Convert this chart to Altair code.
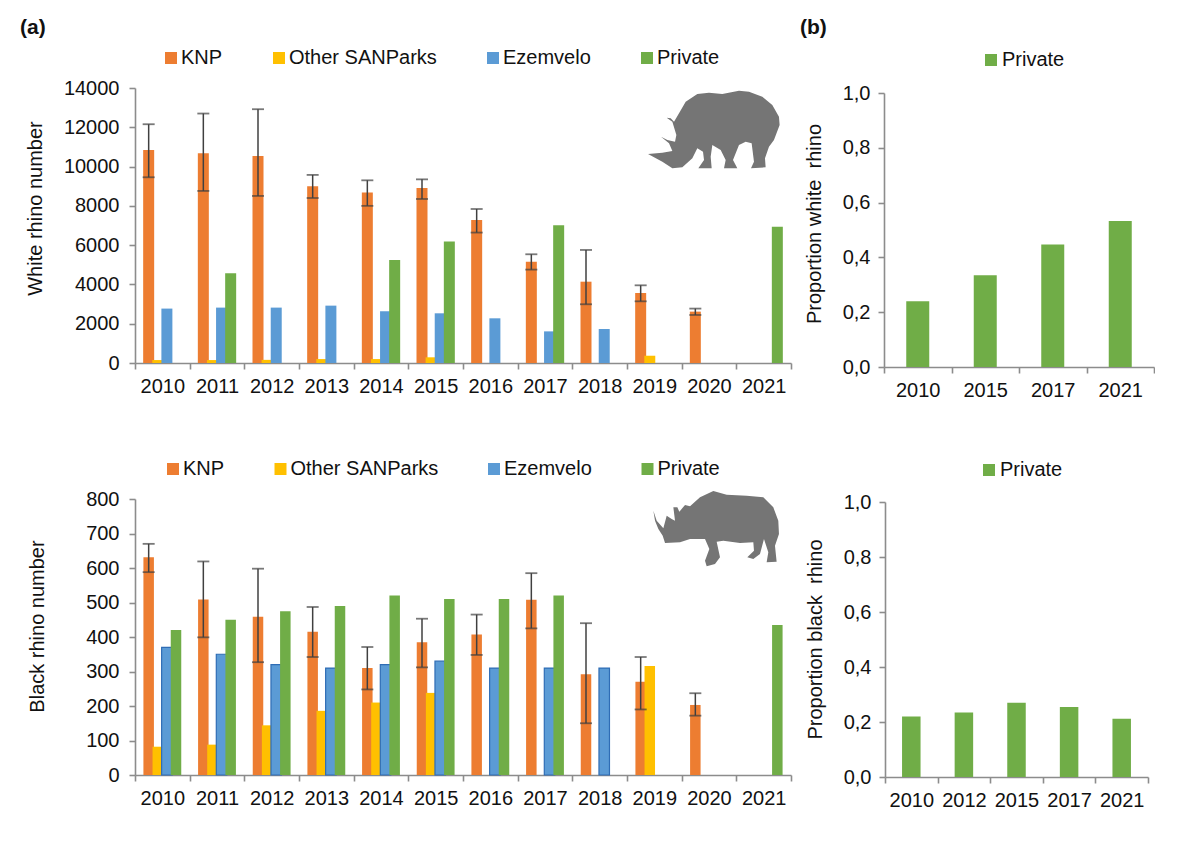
import altair as alt
import pandas as pd

FONT = "Liberation Sans"
YEARS = [str(y) for y in range(2010, 2022)]
SERIES = ["KNP", "Other SANParks", "Ezemvelo", "Private"]
COLORS = ["#ED7D31", "#FFC000", "#5B9BD5", "#70AD47"]
N = None

white_knp = [10850, 10680, 10540, 9000, 8675, 8910, 7280, 5160, 4140, 3565, 2615, N]
white_other = [150, 150, 160, 200, 200, 290, N, N, N, 370, N, N]
white_ez = [2770, 2820, 2820, 2920, 2630, 2530, 2275, 1610, 1730, N, N, N]
white_priv = [N, 4565, N, N, 5245, 6180, N, 7010, N, N, N, 6940]
white_hi = [12155, 12700, 12920, 9575, 9300, 9350, 7840, 5535, 5755, 3955, 2770, N]
white_lo = [9455, 8760, 8505, 8400, 8000, 8350, 6640, 4755, 2990, 3140, 2445, N]

black_knp = [631, 509, 459, 415, 310, 385, 407, 508, 292, 270, 203, N]
black_other = [82, 88, 144, 186, 210, 238, N, N, N, 316, N, N]
black_ez = [370, 350, 320, 310, 320, 330, 310, 310, 310, N, N, N]
black_priv = [420, 450, 475, 490, 520, 510, 510, 520, N, N, N, 435]
black_hi = [670, 619, 598, 487, 371, 453, 465, 585, 440, 342, 237, N]
black_lo = [588, 399, 327, 342, 248, 312, 348, 425, 150, 190, 172, N]

prop_white_years = ["2010", "2015", "2017", "2021"]
prop_white = [0.24, 0.335, 0.447, 0.533]
prop_black_years = ["2010", "2012", "2015", "2017", "2021"]
prop_black = [0.22, 0.235, 0.27, 0.255, 0.212]

WHITE_OUTLINE = [(57, 222), (100, 218), (130, 213), (120, 190), (96, 170), (115, 180), (138, 185), (142, 165), (130, 125),
                 (113, 113), (125, 115), (135, 125), (150, 100), (170, 65), (205, 42), (240, 38), (280, 42), (330, 32),
                 (360, 35), (400, 50), (430, 75), (450, 110), (452, 135), (435, 180), (420, 200), (408, 235), (410, 262),
                 (366, 265), (375, 245), (368, 190), (350, 185), (330, 195), (312, 240), (325, 265), (285, 265), (290, 240),
                 (275, 210), (250, 195), (245, 230), (248, 265), (208, 265), (225, 240), (222, 215), (205, 205), (190, 235),
                 (160, 262), (130, 265), (100, 245)]
BLACK_OUTLINE = [(40, 95), (50, 125), (70, 148), (80, 110), (95, 120), (105, 125), (100, 85), (112, 85), (118, 98), (135, 78),
                 (150, 82), (180, 55), (220, 36), (260, 47), (320, 50), (370, 55), (400, 85), (415, 125), (417, 165), (405, 200),
                 (410, 248), (380, 250), (385, 220), (372, 180), (360, 225), (340, 240), (322, 235), (342, 215), (340, 190),
                 (300, 192), (250, 185), (230, 188), (240, 235), (225, 255), (200, 262), (195, 245), (208, 210), (195, 180),
                 (150, 180), (120, 190), (75, 192), (68, 170), (55, 150), (45, 125)]


def outline_path(pts, cx, cy):
    return "M" + " L".join(f"{x - cx} {y - cy}" for x, y in pts) + " Z"


WHITE_RHINO = outline_path(WHITE_OUTLINE, 255, 150)
BLACK_RHINO = outline_path(BLACK_OUTLINE, 225, 150)


def long_frame(knp, other, ez, priv, hi, lo):
    rows = []
    for s, vals in zip(SERIES, [knp, other, ez, priv]):
        for i, y in enumerate(YEARS):
            if vals[i] is not None:
                rows.append(dict(year=y, series=s, value=vals[i],
                                 hi=hi[i] if s == "KNP" else None,
                                 lo=lo[i] if s == "KNP" else None))
    return pd.DataFrame(rows)


AXIS = dict(labelFont=FONT, labelFontSize=20, labelColor="#111111", domainColor="#8c8c8c", tickColor="#8c8c8c",
            domainWidth=1.6, tickWidth=1.6, tickSize=6, grid=False, titleFont=FONT, titleFontWeight="normal",
            titleColor="#111111", titleFontSize=20, labelOverlap=False)


def title_text(txt, x, y):
    return alt.Chart(pd.DataFrame({"t": [txt]})).mark_text(
        font=FONT, fontSize=21, fontWeight="bold", color="#111111", align="left", baseline="middle"
    ).encode(text="t:N", x=alt.value(x), y=alt.value(y))


def anchor(x, y):
    # invisible point that fixes the panel's layout bounds
    return alt.Chart(pd.DataFrame({"n": ["a"]})).mark_point(size=1, opacity=0).encode(x=alt.value(x), y=alt.value(y))


def main_panel(df, ymax, step, ytitle, tx, ty, legx, legy, colpad, shape, sx, sy, edge=False):
    xs = alt.X("year:N", sort=YEARS, scale=alt.Scale(domain=YEARS, paddingInner=0, paddingOuter=0),
               axis=alt.Axis(title=None, labelAngle=0, tickBand="extent", labelPadding=7, **AXIS))
    off = alt.XOffset("series:N", sort=SERIES, scale=alt.Scale(domain=SERIES, paddingInner=0, paddingOuter=1))
    tick_values = list(range(0, ymax + 1, step))
    ys = alt.Y("value:Q", scale=alt.Scale(domain=[0, ymax], nice=False),
               axis=alt.Axis(title=ytitle, values=tick_values, tickCount=len(tick_values), format="d",
                             titleX=tx, titleY=ty, labelPadding=10, **AXIS))
    enc = dict(
        x=xs, xOffset=off, y=ys,
        color=alt.Color("series:N", sort=SERIES, scale=alt.Scale(domain=SERIES, range=COLORS), legend=alt.Legend(
            title=None, orient="none", direction="horizontal", columns=4, legendX=legx, legendY=legy,
            symbolType="square", symbolSize=144, symbolStrokeWidth=0, labelFont=FONT, labelFontSize=20, labelColor="#111111",
            columnPadding=colpad, labelOffset=0)),
    )
    if edge:
        enc["stroke"] = alt.condition("datum.series === 'Ezemvelo'", alt.value("#2F6DB5"), alt.value("transparent"))
    bars = alt.Chart(df).mark_bar(width=10.5 if edge else 11, strokeWidth=1.2).encode(**enc)
    err_df = df[df["hi"].notna()]
    eb = alt.Chart(err_df)
    rule = eb.mark_rule(color="#404040", strokeWidth=1.5).encode(x=xs, xOffset=off, y=alt.Y("lo:Q"), y2="hi:Q")
    cap_hi = eb.mark_tick(color="#404040", thickness=1.8, size=12, orient="horizontal").encode(x=xs, xOffset=off, y=alt.Y("hi:Q"))
    cap_lo = eb.mark_tick(color="#404040", thickness=1.8, size=12, orient="horizontal").encode(x=xs, xOffset=off, y=alt.Y("lo:Q"))
    rhino = alt.Chart(pd.DataFrame({"n": ["rhino"]})).mark_point(
        shape=shape, filled=True, fill="#757575", opacity=1, size=0.444
    ).encode(x=alt.value(sx), y=alt.value(sy))
    return [bars, rule, cap_hi, cap_lo, rhino]


def prop_panel(years, vals, ytitle, tx, ty, barw, legx, legy, h, top):
    df = pd.DataFrame({"year": years, "value": vals, "series": ["Private"] * len(years)})
    tick_values = [0, .2, .4, .6, .8, 1]
    bars = alt.Chart(df).mark_bar(width=barw).encode(
        x=alt.X("year:N", sort=years, scale=alt.Scale(domain=years, paddingInner=0, paddingOuter=0),
                axis=alt.Axis(title=None, labelAngle=0, tickBand="extent", labelPadding=7, **AXIS)),
        y=alt.Y("value:Q", scale=alt.Scale(domain=[0, 1], nice=False, range=[h, top]),
                axis=alt.Axis(title=ytitle, values=tick_values, tickCount=len(tick_values), format=".1f",
                              labelExpr="replace(datum.label,'.',',')", titleX=tx, titleY=ty, labelPadding=8, **AXIS)),
        color=alt.Color("series:N", scale=alt.Scale(domain=["Private"], range=["#70AD47"]), legend=alt.Legend(
            title=None, orient="none", legendX=legx, legendY=legy, symbolType="square", symbolSize=144, symbolStrokeWidth=0,
            labelFont=FONT, labelFontSize=20, labelColor="#111111", labelOffset=1)),
    )
    return [bars]


w_df = long_frame(white_knp, white_other, white_ez, white_priv, white_hi, white_lo)
b_df = long_frame(black_knp, black_other, black_ez, black_priv, black_hi, black_lo)

a1 = alt.layer(*main_panel(w_df, 14000, 2000, "White rhino number", -90, 120, 26, -40, 46, WHITE_RHINO, 579, 42),
               title_text("(a)", -115, -60)).properties(width=656, height=275)
b1 = alt.layer(*prop_panel(prop_white_years, prop_white, "Proportion white\u00a0 rhino", -60, 135.5, 23, 97, -38, 279, 5),
               title_text("(b)", -84, -60)).properties(width=270, height=279)
a2 = alt.layer(*main_panel(b_df, 800, 100, "Black rhino number", -88, 127, 28, -40, 45.5, BLACK_RHINO, 580, 30, edge=True),
               anchor(-115, -55)).properties(width=656, height=276)
b2 = alt.layer(*prop_panel(prop_black_years, prop_black, "Proportion black\u00a0 rhino", -60, 140, 18.5, 94, -39, 278, 3),
               anchor(-84, -52)).properties(width=263, height=278)

row1 = alt.hconcat(a1, b1, spacing=8).resolve_scale(color="independent")
row2 = alt.hconcat(a2, b2, spacing=8).resolve_scale(color="independent")
chart = alt.vconcat(row1, row2, spacing=43).resolve_scale(color="independent").properties(
    padding={"left": 11, "top": 9, "right": 0, "bottom": 0}).configure_view(stroke=None)
chart.save("out.html", embed_options={"renderer": "svg", "actions": False})
